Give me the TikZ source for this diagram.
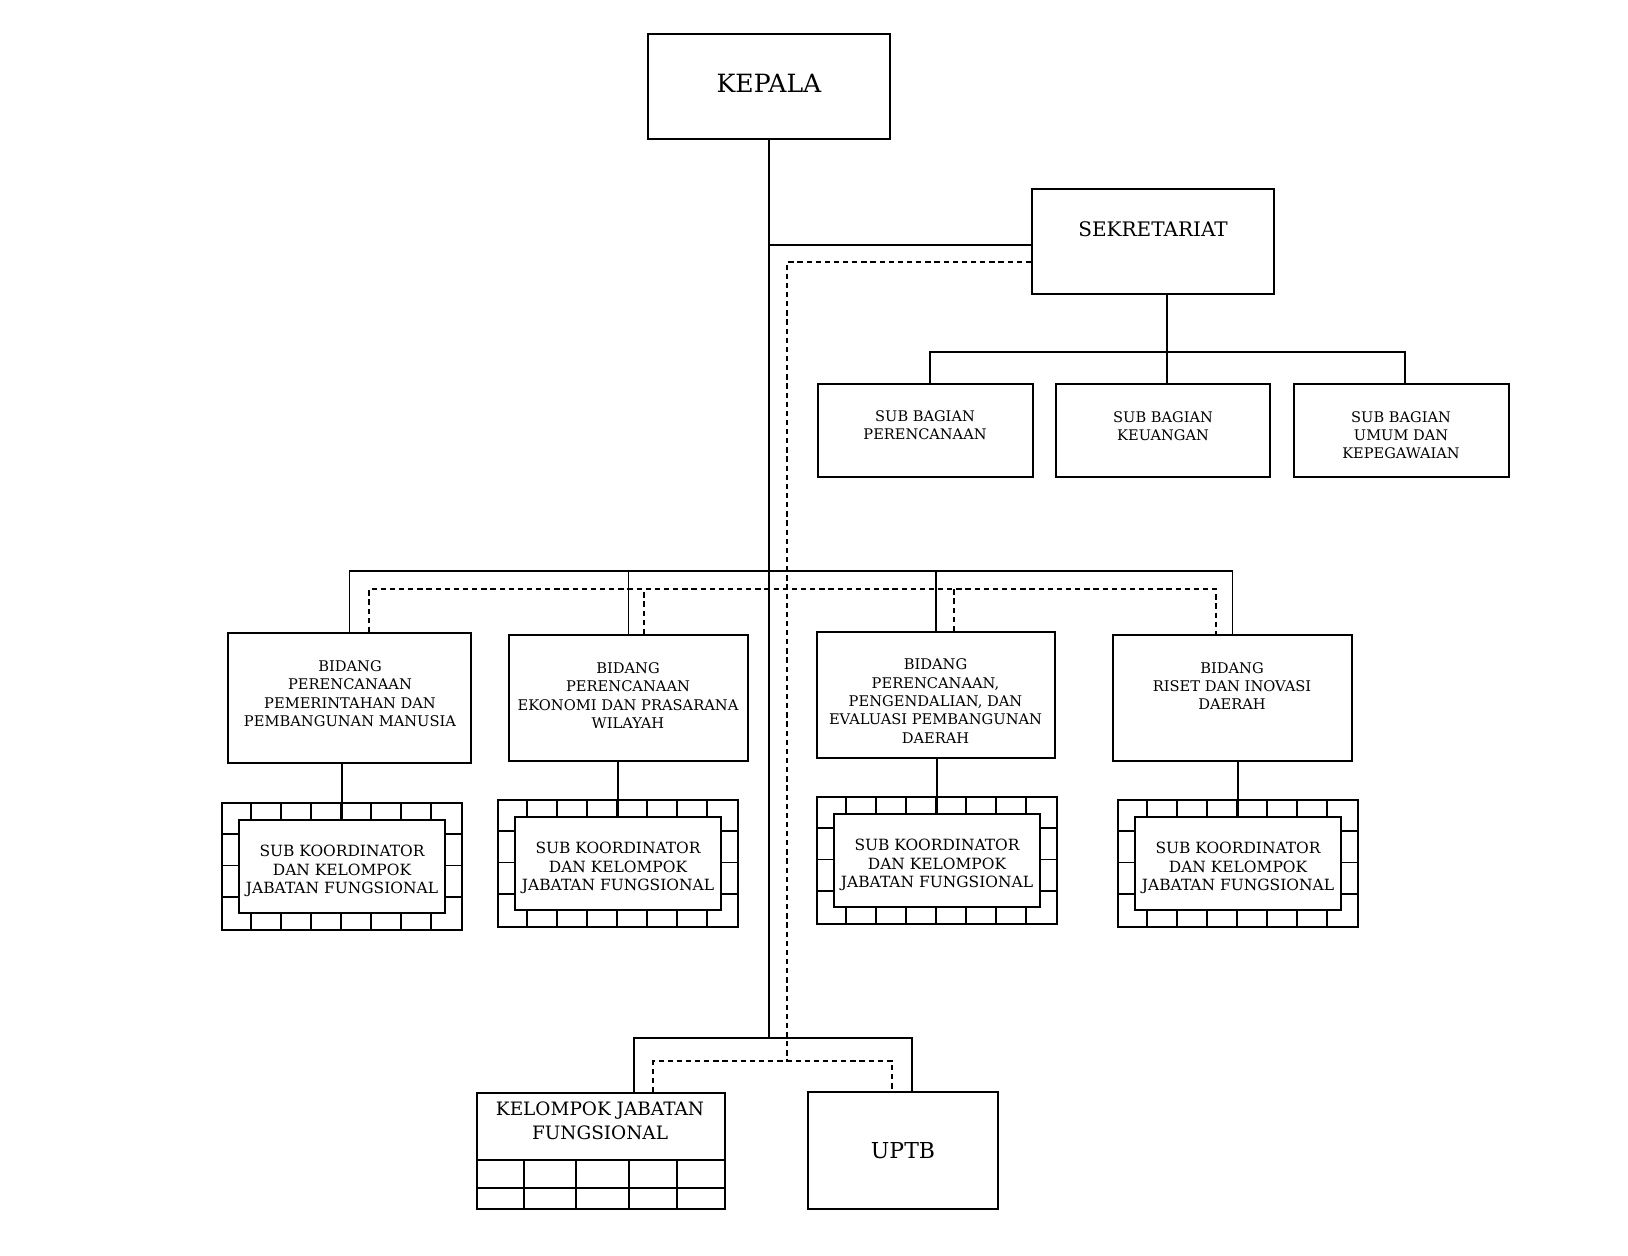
\documentclass[tikz,border=0pt]{standalone}
\usepackage{fontspec}
\setmainfont{DejaVu Serif}
\tikzstyle{box}=[draw, line width=1.1pt, inner sep=0pt]
\tikzstyle{txt}=[align=center, inner sep=0pt]
\tikzstyle{link}=[line width=0.9pt]
\tikzstyle{dashline}=[line width=0.9pt, dash pattern=on 3pt off 2.2pt]

\begin{document}
\begin{tikzpicture}[x=0.02cm, y=-0.02cm]
      \useasboundingbox (0,0) rectangle (1628,1256);

      % kepala dan sekretariat
      \node[box, minimum width=4.84cm, minimum height=2.1cm] (kepala) at (769,86.5) {};
      \node[txt, font=\fontsize{14.3}{16}\selectfont] (kepalat) at (769,83) {KEPALA};

      \node[box, minimum width=4.84cm, minimum height=2.1cm] (sek) at (1153,241.5) {};
      \node[txt, font=\fontsize{11.4}{13}\selectfont] (sekt) at (1153,229.5) {SEKRETARIAT};

      \node[box, minimum width=4.3cm, minimum height=1.86cm] (sb1) at (925.5,430.5) {};
      \node[box, minimum width=4.28cm, minimum height=1.86cm] (sb2) at (1163,430.5) {};
      \node[box, minimum width=4.3cm, minimum height=1.86cm] (sb3) at (1401.5,430.5) {};
      \node[txt, font=\fontsize{8.3}{10.3}\selectfont] (sb1t) at (925,425) {SUB BAGIAN\\PERENCANAAN};
      \node[txt, font=\fontsize{8.3}{10.3}\selectfont] (sb2t) at (1163,426) {SUB BAGIAN\\KEUANGAN};
      \node[txt, font=\fontsize{8.3}{10.3}\selectfont] (sb3t) at (1401,435) {SUB BAGIAN\\UMUM DAN\\KEPEGAWAIAN};

      % bidang
      \node[box, minimum width=4.86cm, minimum height=2.6cm] (b1) at (349.5,698) {};
      \node[box, minimum width=4.78cm, minimum height=2.52cm] (b2) at (628.5,698) {};
      \node[box, minimum width=4.76cm, minimum height=2.52cm] (b3) at (936,695) {};
      \node[box, minimum width=4.78cm, minimum height=2.52cm] (b4) at (1232.5,698) {};
      \node[txt, font=\fontsize{8.35}{10.5}\selectfont] (b1t) at (350,693.5) {BIDANG\\PERENCANAAN\\PEMERINTAHAN DAN\\PEMBANGUNAN MANUSIA};
      \node[txt, font=\fontsize{8.35}{10.5}\selectfont] (b2t) at (628,695.5) {BIDANG\\PERENCANAAN\\EKONOMI DAN PRASARANA\\WILAYAH};
      \node[txt, font=\fontsize{8.35}{10.5}\selectfont] (b3t) at (935.5,701) {BIDANG\\PERENCANAAN,\\PENGENDALIAN, DAN\\EVALUASI PEMBANGUNAN\\DAERAH};
      \node[txt, font=\fontsize{8.35}{10.5}\selectfont] (b4t) at (1232,686) {BIDANG\\RISET DAN INOVASI\\DAERAH};

      % sub koordinator
      \node[box, minimum width=4.8cm, minimum height=2.54cm] (fr1) at (342,866.5) {};
      \node[box, minimum width=4.8cm, minimum height=2.54cm] (fr2) at (618,863.5) {};
      \node[box, minimum width=4.8cm, minimum height=2.54cm] (fr3) at (937,860.5) {};
      \node[box, minimum width=4.8cm, minimum height=2.54cm] (fr4) at (1238,863.5) {};
      \foreach \n in {1,...,4} {
        \node[box, minimum width=4.12cm, minimum height=1.86cm] (sk\n) at (fr\n) {};
        \node[txt, font=\fontsize{8.8}{10.6}\selectfont] (skt\n) at ([yshift=-0.09cm]fr\n) {SUB KOORDINATOR\\DAN KELOMPOK\\JABATAN FUNGSIONAL};
        \foreach \i in {1,...,7} {
          \draw[link] ([xshift=\i*0.6cm]fr\n.north west) -- ++(0,17);
          \draw[link] ([xshift=\i*0.6cm]fr\n.south west) -- ++(0,-17);
        }
        \foreach \j in {1,2,3} {
          \draw[link] ([yshift=-\j*0.635cm]fr\n.north west) -- ++(17,0);
          \draw[link] ([yshift=-\j*0.635cm]fr\n.north east) -- ++(-17,0);
        }
      }

      % kelompok jabatan fungsional dan uptb
      \node[box, minimum width=4.96cm, minimum height=2.32cm] (kjf) at (601,1151) {};
      \node[txt, font=\fontsize{10.5}{13.6}\selectfont] (kjft) at (600,1121) {KELOMPOK JABATAN\\FUNGSIONAL};
      \draw[link] ([yshift=-1.36cm]kjf.north west) -- ([yshift=-1.36cm]kjf.north east);
      \draw[link] ([yshift=-1.92cm]kjf.north west) -- ([yshift=-1.92cm]kjf.north east);
      \foreach \x in {0.96,2.0,3.06,4.02}
        \draw[link] ([xshift=\x cm, yshift=-1.36cm]kjf.north west) -- ([xshift=\x cm]kjf.south west);

      \node[box, minimum width=3.8cm, minimum height=2.34cm, font=\fontsize{12.5}{15}\selectfont] (uptb) at (903,1150.5) {UPTB};

      % garis komando
      \coordinate (bidbar) at (0,571);
      \coordinate (dbidbar) at (0,589);
      \coordinate (botbar) at (0,1038);
      \coordinate (dtrunk) at (787,1061);

      \draw[link] (kepala.south) |- ([yshift=-0.07cm]sek.west);
      \draw[link] (kepala.south) -- (kepala.south |- botbar);

      \draw[link] ([xshift=0.08cm]sb2.north) -- ([xshift=0.08cm]sb2.north |- sek.south);
      \draw[link] ([xshift=0.09cm]sb1.north) -- ++(0,-31) -| ([xshift=0.07cm]sb3.north);

      \draw[link] (b1.north) -- (b1.north |- bidbar) -| (b4.north);
      \draw[link] (b2.north) -- (b2.north |- bidbar);
      \draw[link] (b3.north) -- (b3.north |- bidbar);

      \draw[link] (b1.south -| fr1.north) -- (sk1.north);
      \draw[link] (b2.south -| fr2.north) -- (sk2.north);
      \draw[link] (b3.south -| fr3.north) -- (sk3.north);
      \draw[link] (b4.south -| fr4.north) -- (sk4.north);

      \draw[link] ([xshift=0.66cm]kjf.north) -- ([xshift=0.66cm]kjf.north |- botbar) -| ([xshift=0.18cm]uptb.north);

      % garis koordinasi
      \draw[dashline] ([yshift=-0.41cm]sek.west) -| (dtrunk);
      \draw[dashline] ([xshift=0.39cm]b1.north) -- ([xshift=0.39cm]b1.north |- dbidbar) -| ([xshift=-0.33cm]b4.north);
      \draw[dashline] ([xshift=0.31cm]b2.north) -- ([xshift=0.31cm]b2.north |- dbidbar);
      \draw[dashline] ([xshift=0.36cm]b3.north) -- ([xshift=0.36cm]b3.north |- dbidbar);
      \draw[dashline] ([xshift=1.04cm]kjf.north) -- ([xshift=1.04cm]kjf.north |- dtrunk) -| ([xshift=-0.22cm]uptb.north);
    \end{tikzpicture}
\end{document}
